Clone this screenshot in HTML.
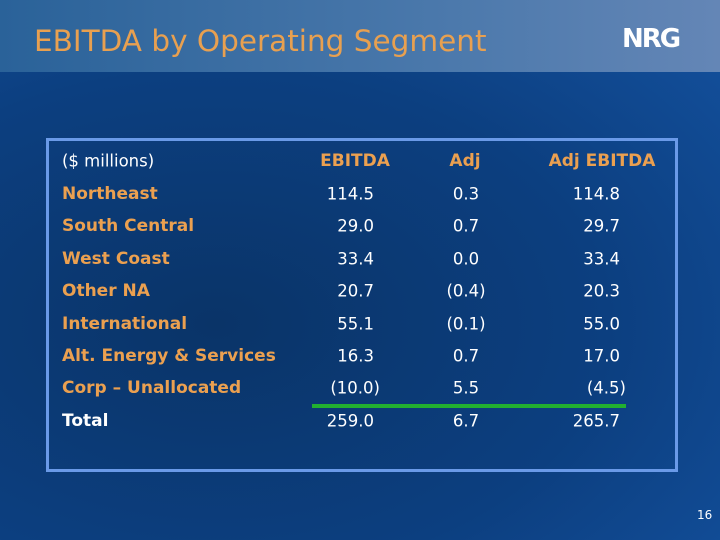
<!DOCTYPE html>
<html><head><meta charset="utf-8"><style>
body{margin:0;width:720px;height:540px;overflow:hidden;font-family:"DejaVu Sans","Liberation Sans",sans-serif}
#slide{position:relative;width:720px;height:540px;background:radial-gradient(ellipse at 30% 60%,#0a3468 0%,#0c3f80 55%,#1452a0 100%)}
#hdr{position:absolute;left:0;top:0;width:720px;height:72px;background:linear-gradient(90deg,#2a6299,#4a78ab 60%,#6486b6)}
#title{position:absolute;left:34px;top:24px;font-size:29.5px;color:#e8a050}
#logo{position:absolute;left:622px;top:24px;font-size:26px;font-weight:bold;color:#fff;letter-spacing:-2px}
#box{position:absolute;left:46px;top:138px;width:626px;height:328px;border:3px solid #6a9ae8;box-sizing:content-box}
.t{position:absolute;font-size:17px;font-weight:bold;white-space:nowrap;transform:translateY(-50%)}
.o{color:#eba050}.w{color:#fff;font-weight:normal;font-size:16.5px}
#green{position:absolute;left:312px;top:404px;width:314px;height:4px;background:#22b030}
#pg{position:absolute;left:697px;top:508px;color:#fff;font-size:12px}
</style></head><body>
<div id="slide">
<div id="hdr"></div>
<div id="title">EBITDA by Operating Segment</div>
<div id="logo">NRG</div>
<div id="box"></div>
<div id="green"></div>
<div id="pg">16</div>
<div id="tbl"></div>
</div>
<script>
const segments=["Northeast","South Central","West Coast","Other NA","International","Alt. Energy & Services","Corp – Unallocated","Total"];
const ebitda=["114.5","29.0","33.4","20.7","55.1","16.3","(10.0)","259.0"];
const adj=["0.3","0.7","0.0","(0.4)","(0.1)","0.7","5.5","6.7"];
const adjEbitda=["114.8","29.7","33.4","20.3","55.0","17.0","(4.5)","265.7"];
const slide=document.getElementById('slide');
function put(txt,x,y,cls,align){
  const d=document.createElement('div');
  d.className='t '+cls;d.textContent=txt;
  
  
  d.style.top=y+'px';
  if(align==='r'){d.style.right=(720-x)+'px';}
  else if(align==='c'){d.style.left=x+'px';d.style.transform='translate(-50%,-50%)';}
  else d.style.left=x+'px';
  slide.appendChild(d);
  return d;
}
put('($ millions)',62,161,'w','l');
put('EBITDA',355,161,'o','c');
put('Adj',465,161,'o','c');
put('Adj EBITDA',602,161,'o','c');
const y0=194,dy=32.4;
segments.forEach((s,i)=>{
  const y=y0+i*dy;
  const last=i===segments.length-1;
  const lab=put(s,62,y,'o','l');
  if(last) lab.style.color='#fff';
  const paren1=ebitda[i].startsWith('(');
  put(ebitda[i],paren1?380:374,y,'w','r');
  put(adj[i],466,y,'w','c');
  const paren2=adjEbitda[i].startsWith('(');
  put(adjEbitda[i],paren2?626:620,y,'w','r');
});
</script>
</body></html>
